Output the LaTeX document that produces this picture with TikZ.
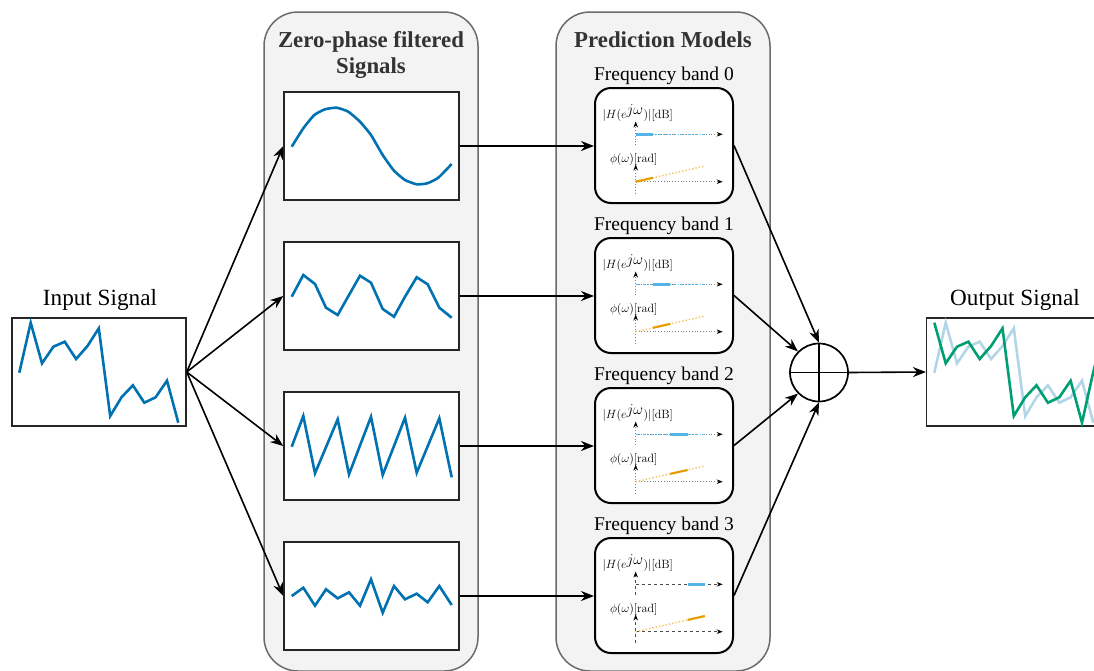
\documentclass[tikz,border=0pt]{standalone}
\usepackage[no-math]{fontspec}
\setmainfont{Liberation Serif}
\usetikzlibrary{arrows.meta}
\definecolor{sigblue}{HTML}{0072B2}
\definecolor{skyblue}{HTML}{56B4E9}
\definecolor{orng}{HTML}{E69F00}
\definecolor{sgreen}{HTML}{009E73}
\definecolor{ghost}{RGB}{179,213,232}
\definecolor{groupfill}{HTML}{F3F3F3}
\definecolor{groupline}{HTML}{6B6B6B}
\definecolor{headgray}{HTML}{333333}
\begin{document}
\begin{tikzpicture}[x=1pt,y=-1pt,
  group/.style={draw=groupline,fill=groupfill,line width=1.5pt,rounded corners=34pt},
  sigbox/.style={draw=black!85,fill=white,line width=1.5pt,minimum height=108pt,inner sep=0pt},
  model/.style={draw=black,fill=white,line width=2pt,rounded corners=16pt,minimum width=138pt,minimum height=115pt,inner sep=0pt},
  sumnode/.style={draw=black,circle,line width=1.7pt,minimum size=58pt,inner sep=0pt},
  arr/.style={-{Stealth[length=13pt,width=10pt]},line width=1.6pt},
  sig/.style={sigblue,line width=2.6pt},
  heading/.style={font=\fontsize{22.8}{27}\selectfont\bfseries,text=headgray,anchor=base,inner sep=0pt},
  title/.style={font=\fontsize{23.2}{27}\selectfont,anchor=base,inner sep=0pt},
  bandlabel/.style={font=\fontsize{19.5}{23}\selectfont,anchor=base,inner sep=0pt},
  axlabel/.style={font=\fontsize{12}{14}\selectfont,anchor=base,inner sep=0pt},
  axtip/.style={-{Stealth[length=6pt,width=4.5pt,color=black]}},
  dotax/.style={gray,dotted,line width=0.8pt},
  dashax/.style={black!70,dashed,line width=0.9pt},
  bluedots/.style={skyblue,dash dot,line width=1.1pt},
  nobluedots/.style={draw=none}]
\clip (0,0) rectangle (1094,670);
\fill[white] (0,0) rectangle (1094,670);

% two grey groups
\draw[group] (264,12) rectangle (478,671);
\draw[group] (556,12) rectangle (770,671);
\node[heading] (h1a) at (371,47) {Zero-phase filtered};
\node[heading] (h1b) at (371,73) {Signals};
\node[heading] (h2) at (663,47) {Prediction Models};

% input and output
\node[title] (tin) at (100,305) {Input Signal};
\node[title] (tout) at (1015,305) {Output Signal};
\node[sigbox,minimum width=174pt] (in) at (99,372) {};
\node[sigbox,minimum width=174pt] (out) at (1013.7,372) {};

\draw[sig,line join=miter] plot coordinates {(19.3,372.7) (30.7,322.7) (42.0,363.3) (53.4,346.7) (64.7,341.7) (76.1,359) (87.5,346) (98.8,328.3) (110.2,416) (121.5,397.3) (132.9,385.3) (144.3,402.7) (155.6,397.3) (167.0,380.7) (178.3,422.7)};

\draw[ghost,line width=2.6pt] plot coordinates {(934.3,372.7) (945.7,322.7) (957.0,363.3) (968.4,346.7) (979.7,341.7) (991.1,359) (1002.5,346) (1013.8,328.3) (1025.2,416) (1036.5,397.3) (1047.9,385.3) (1059.3,402.7) (1070.6,397.3) (1082.0,380.7) (1093.3,422.7)};
\draw[sgreen,line width=2.6pt] plot coordinates {(934.3,322.7) (945.7,363.3) (957.0,346.7) (968.4,341.7) (979.7,359) (991.1,346) (1002.5,328.3) (1013.8,416) (1025.2,397.3) (1036.5,385.3) (1047.9,402.7) (1059.3,397.3) (1070.6,380.7) (1082.0,422.7) (1093.3,371.7) (1104.7,330)};

% filtered signals
\node[sigbox,minimum width=175pt] (f0) at (371.5,146) {};
\node[sigbox,minimum width=175pt] (f1) at (371.5,296) {};
\node[sigbox,minimum width=175pt] (f2) at (371.5,446) {};
\node[sigbox,minimum width=175pt] (f3) at (371.5,596) {};

\draw[sig] plot[smooth,tension=0.3] coordinates {(291.7,146.7) (303.3,128.3) (314.3,115) (325,109.3) (336.7,107.7) (348.3,111.7) (360,121.7) (371,135) (382.7,155) (394,170.7) (405,180) (416.7,184.3) (427.3,183.3) (438.3,177.7) (451.7,164)};
\draw[sig] plot coordinates {(291.7,296.7) (303.3,275) (315,284) (326,307.7) (337.7,315) (349,295) (360,275.7) (371,282.7) (382.7,309) (394,316.7) (405,296.7) (416.7,277.3) (427.7,284.3) (439.3,307.7) (451.7,317.7)};
\draw[sig] plot coordinates {(291.7,446.7) (303.3,416) (315,473.3) (337.7,419.3) (349,474.3) (371,416.7) (382.7,475) (405,417.7) (416.7,472.7) (439.3,418.3) (451.7,477.3)};
\draw[sig] plot coordinates {(291.7,596) (303.3,587.7) (315,605.7) (326,589.3) (337.7,598.3) (349,592.3) (360,605.7) (371,579.3) (382.7,612.7) (394,586) (405,599.3) (416.7,593.7) (427.7,602.3) (439.3,586) (451.7,605)};

% prediction models, one per frequency band
\foreach \k/\T/\ax/\bl in {0/88/dotax/bluedots,1/238/dotax/bluedots,2/388/dotax/bluedots,3/538/dashax/nobluedots}{
  \pgfmathsetmacro\cy{\T+57.5}
  \node[model] (m\k) at (664,\cy) {};
  \node[bandlabel] (b\k) at (664,\T-8) {Frequency band \k};
  \begin{scope}[shift={(0,\T)}]
    \pgfmathsetmacro\xs{635.7+17.3*\k}
    \pgfmathsetmacro\xe{\xs+17.3}
    \pgfmathsetmacro\ys{93.7-(\xs-635.7)*15.7/69.3}
    \pgfmathsetmacro\ye{93.7-(\xe-635.7)*15.7/69.3}
    % magnitude
    \node[axlabel] (mag\k) at (637.7,30.5) {$|H(e^{\scalebox{1.25}{$j\omega$}})|\mathrm{[dB]}$};
    \draw[\ax,axtip] (635.7,57) -- (635.7,33.5);
    \draw[\ax,axtip] (635.7,46.3) -- (722.7,46.3);
    \draw[\bl] (635.7,46.3) -- (705,46.3);
    \draw[skyblue,line width=2.8pt] (\xs,46.3) -- (\xe,46.3);
    % phase
    \node[axlabel] (ph\k) at (633.7,74.5) {$\phi(\omega)\mathrm{[rad]}$};
    \draw[\ax,axtip] (635.7,105.3) -- (635.7,76.5);
    \draw[\ax,axtip] (635.7,93.7) -- (722.7,93.7);
    \draw[orng!60,dotted,line width=1.4pt] (635.7,93.7) -- (705,78);
    \draw[orng,line width=2.2pt] (\xs,\ys) -- (\xe,\ye);
  \end{scope}
}

% summation
\node[sumnode] (sum) at (819,372.5) {};
\draw[line width=1.7pt] (sum.north) -- (sum.south) (sum.west) -- (sum.east);

% connections
\foreach \i in {0,1,2,3}{
  \draw[arr] (in.east) -- (f\i.west);
  \draw[arr] (f\i.east) -- (m\i.west |- f\i.east);
}
\draw[arr] (m0.east) -- (sum.north);
\draw[arr] (m1.east) -- (sum.north west);
\draw[arr] (m2.east) -- (sum.south west);
\draw[arr] (m3.east) -- (sum.south);
\draw[arr] (sum.east) -- (out.west);
\end{tikzpicture}
\end{document}
